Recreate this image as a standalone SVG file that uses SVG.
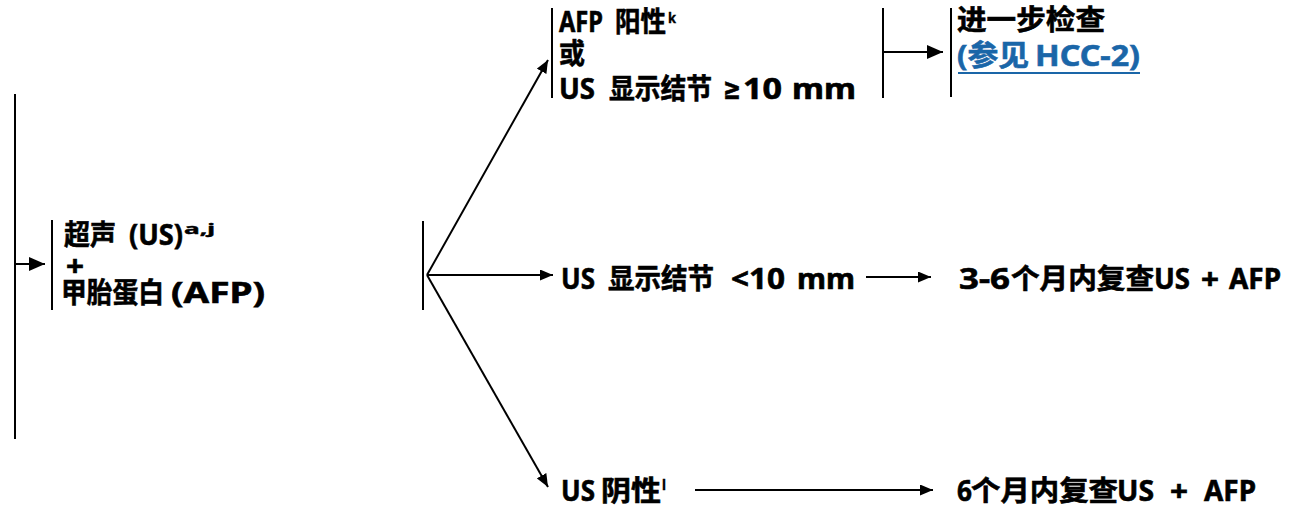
<svg xmlns="http://www.w3.org/2000/svg" width="1306" height="508" viewBox="0 0 1306 508">
<defs>
<marker id="big" viewBox="0 0 16 14" refX="16" refY="7" markerWidth="16" markerHeight="14" markerUnits="userSpaceOnUse" orient="auto"><path d="M0,0 L16,7 L0,14 z" fill="#000"/></marker>
<marker id="small" viewBox="0 0 13 11" refX="13" refY="5.5" markerWidth="13" markerHeight="11" markerUnits="userSpaceOnUse" orient="auto"><path d="M0,0 L13,5.5 L0,11 z" fill="#000"/></marker>
<style>
text{font-family:"Noto Sans","Noto Sans CJK SC",sans-serif;font-weight:bold;font-size:29px;fill:#000;stroke:#000;stroke-width:0.6px}
.c{font-size:28px}
.m{font-family:"DejaVu Sans",sans-serif;font-size:30px}
.sup{font-size:15px;stroke-width:0.4px}
.link{fill:#1a66a8;stroke:#1a66a8}
.ln{stroke:#000;stroke-width:2;fill:none}
</style>
</defs>
<rect width="1306" height="508" fill="#fff"/>
<g id="connectors">
<line class="ln" x1="15" y1="94" x2="15" y2="439"/>
<line class="ln" x1="15" y1="264" x2="45" y2="264" marker-end="url(#big)"/>
<line class="ln" x1="52" y1="220" x2="52" y2="310"/>
<line class="ln" x1="423" y1="221" x2="423" y2="310"/>
<line class="ln" x1="427" y1="275" x2="548" y2="60" marker-end="url(#small)"/>
<line class="ln" x1="427" y1="275" x2="553" y2="275" marker-end="url(#small)"/>
<line class="ln" x1="427" y1="275" x2="548" y2="487" marker-end="url(#small)"/>
<line class="ln" x1="552" y1="8" x2="552" y2="98"/>
<line class="ln" x1="883" y1="8" x2="883" y2="98"/>
<line class="ln" x1="883" y1="52" x2="943" y2="52" marker-end="url(#big)"/>
<line class="ln" x1="951" y1="8" x2="951" y2="97"/>
<line class="ln" x1="866" y1="277" x2="931" y2="277" marker-end="url(#small)"/>
<line class="ln" x1="695" y1="490" x2="933" y2="490" marker-end="url(#small)"/>
</g>
<g id="node-start">
<text><tspan class="c" x="64" y="245" textLength="52" lengthAdjust="spacingAndGlyphs">超声</tspan><tspan x="129" y="245" textLength="54" lengthAdjust="spacingAndGlyphs">(US)</tspan><tspan class="sup" x="184" y="234" textLength="31" lengthAdjust="spacingAndGlyphs">a,j</tspan><tspan x="66" y="276" textLength="18" lengthAdjust="spacingAndGlyphs">+</tspan><tspan class="c" x="61" y="303" textLength="103" lengthAdjust="spacingAndGlyphs">甲胎蛋白</tspan><tspan x="171" y="303" textLength="94" lengthAdjust="spacingAndGlyphs">(AFP)</tspan></text>
</g>
<g id="node-positive">
<text><tspan x="559" y="32" textLength="44" lengthAdjust="spacingAndGlyphs">AFP</tspan><tspan class="c" x="615" y="32" textLength="51" lengthAdjust="spacingAndGlyphs">阳性</tspan><tspan class="sup" x="668" y="23" textLength="8" lengthAdjust="spacingAndGlyphs">k</tspan><tspan class="c" x="559" y="64" textLength="26" lengthAdjust="spacingAndGlyphs">或</tspan><tspan x="559" y="99" textLength="36" lengthAdjust="spacingAndGlyphs">US</tspan><tspan class="c" x="609" y="99" textLength="103" lengthAdjust="spacingAndGlyphs">显示结节</tspan><tspan class="m" x="723" y="99" textLength="18" lengthAdjust="spacingAndGlyphs">≥</tspan><tspan x="743" y="99" textLength="39" lengthAdjust="spacingAndGlyphs">10</tspan><tspan x="792" y="99" textLength="64" lengthAdjust="spacingAndGlyphs">mm</tspan></text>
</g>
<g id="node-workup">
<text><tspan class="c" x="957" y="30" textLength="148" lengthAdjust="spacingAndGlyphs">进一步检查</tspan></text>
<a href="#hcc-2">
<text class="link"><tspan x="957" y="66" textLength="72" lengthAdjust="spacingAndGlyphs">(参见</tspan><tspan x="1035" y="66" textLength="105" lengthAdjust="spacingAndGlyphs">HCC-2)</tspan></text>
<line x1="958" y1="73" x2="1140" y2="73" stroke="#1a66a8" stroke-width="2"/>
</a>
</g>
<g id="node-small">
<text><tspan x="561" y="289" textLength="34" lengthAdjust="spacingAndGlyphs">US</tspan><tspan class="c" x="608" y="289" textLength="106" lengthAdjust="spacingAndGlyphs">显示结节</tspan><tspan x="731" y="289" textLength="54" lengthAdjust="spacingAndGlyphs">&lt;10</tspan><tspan x="797" y="289" textLength="58" lengthAdjust="spacingAndGlyphs">mm</tspan></text>
</g>
<g id="node-repeat36">
<text><tspan x="959" y="289" textLength="51" lengthAdjust="spacingAndGlyphs">3-6</tspan><tspan class="c" x="1011" y="289" textLength="143" lengthAdjust="spacingAndGlyphs">个月内复查</tspan><tspan x="1154" y="289" textLength="36" lengthAdjust="spacingAndGlyphs">US</tspan><tspan x="1201" y="289" textLength="18" lengthAdjust="spacingAndGlyphs">+</tspan><tspan x="1229" y="289" textLength="52" lengthAdjust="spacingAndGlyphs">AFP</tspan></text>
</g>
<g id="node-negative">
<text><tspan x="561" y="501" textLength="34" lengthAdjust="spacingAndGlyphs">US</tspan><tspan class="c" x="601" y="501" textLength="60" lengthAdjust="spacingAndGlyphs">阴性</tspan><tspan class="sup" x="662" y="490" textLength="4" lengthAdjust="spacingAndGlyphs">l</tspan></text>
</g>
<g id="node-repeat6">
<text><tspan x="957" y="501" textLength="15" lengthAdjust="spacingAndGlyphs">6</tspan><tspan class="c" x="971" y="501" textLength="147" lengthAdjust="spacingAndGlyphs">个月内复查</tspan><tspan x="1117" y="501" textLength="37" lengthAdjust="spacingAndGlyphs">US</tspan><tspan x="1170" y="501" textLength="18" lengthAdjust="spacingAndGlyphs">+</tspan><tspan x="1204" y="501" textLength="52" lengthAdjust="spacingAndGlyphs">AFP</tspan></text>
</g>
</svg>
